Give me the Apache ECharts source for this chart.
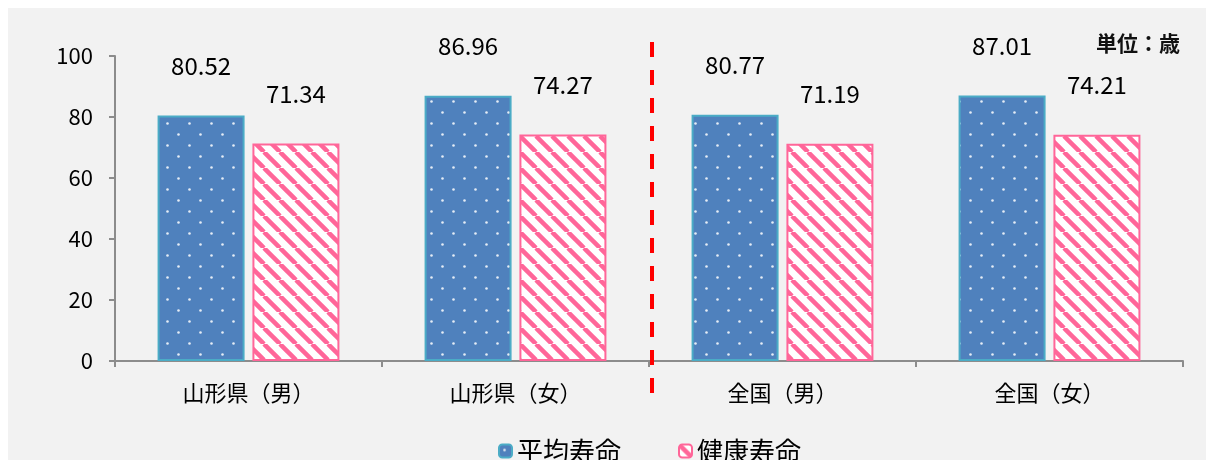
<!DOCTYPE html>
<html>
<head>
<meta charset="utf-8">
<script src="https://cdn.jsdelivr.net/npm/echarts@6/dist/echarts.min.js"></script>
<style>
  html,body{margin:0;padding:0;background:#fff;}
  #box{position:absolute;left:8px;top:8px;width:1198px;height:452px;background:#f2f2f2;}
</style>
</head>
<body>
<div id="box"></div>
<script>
// data
var categories = ['山形県（男）', '山形県（女）', '全国（男）', '全国（女）'];
var avgLife = [80.52, 86.96, 80.77, 87.01];
var healthyLife = [71.34, 74.27, 71.19, 74.21];
var seriesNames = ['平均寿命', '健康寿命'];
var yTicks = [0, 20, 40, 60, 80, 100];

var FONT = '"Noto Sans CJK JP", "Noto Sans", sans-serif';

// 青のドット柄
function dotPattern() {
  var c = document.createElement('canvas');
  c.width = 22; c.height = 22;
  var ctx = c.getContext('2d');
  ctx.fillStyle = '#4f81bd';
  ctx.fillRect(0, 0, 22, 22);
  ctx.fillStyle = 'rgba(255,255,255,0.85)';
  [[5.5, 5.5], [16.5, 16.5]].forEach(function (p) {
    ctx.beginPath();
    ctx.arc(p[0], p[1], 1.3, 0, Math.PI * 2);
    ctx.fill();
  });
  return c;
}
// ピンクの斜線柄
function stripePattern() {
  var s = 16;
  var c = document.createElement('canvas');
  c.width = s; c.height = s;
  var ctx = c.getContext('2d');
  ctx.fillStyle = '#ffffff';
  ctx.fillRect(0, 0, s, s);
  ctx.strokeStyle = '#ff6699';
  ctx.lineWidth = 4.5;
  [-s, 0, s].forEach(function (o) {
    ctx.beginPath();
    ctx.moveTo(o, 0);
    ctx.lineTo(o + s, s);
    ctx.stroke();
  });
  return c;
}

var myChart = echarts.init(document.getElementById('box'));

var labelStyle = {
  show: true,
  position: 'top',
  distance: 38,
  fontSize: 24,
  color: '#000',
  fontFamily: FONT,
  formatter: function (p) { return p.value.toFixed(2); }
};

var unitText = {
  type: 'text',
  right: 26,
  top: 25,
  style: { text: '単位：歳', font: 'bold 21px ' + FONT, fill: '#111' }
};

var option = {
  backgroundColor: '#f2f2f2',
  animation: false,
  textStyle: { fontFamily: FONT },
  grid: { left: 107, right: 23, top: 48, bottom: 99 },
  legend: {
    top: 425,
    left: 485,
    itemWidth: 13,
    itemHeight: 13,
    itemGap: 57,
    textStyle: { fontSize: 26, color: '#000', fontFamily: FONT },
    data: seriesNames
  },
  graphic: [unitText],
  xAxis: {
    type: 'category',
    data: categories,
    axisLine: { lineStyle: { color: '#8c8c8c', width: 2 } },
    axisTick: { show: true, length: 6, lineStyle: { color: '#8c8c8c', width: 2 } },
    axisLabel: { fontSize: 22, color: '#000', margin: 21, fontFamily: FONT }
  },
  yAxis: {
    type: 'value',
    min: 0,
    max: 100,
    interval: 20,
    splitLine: { show: false },
    axisLine: { show: true, lineStyle: { color: '#8c8c8c', width: 2 } },
    axisTick: { show: true, length: 6, lineStyle: { color: '#8c8c8c', width: 2 } },
    axisLabel: {
      fontSize: 22, color: '#000', margin: 22, fontFamily: FONT,
      formatter: function (v) { return yTicks.indexOf(v) >= 0 ? String(v) : ''; }
    }
  },
  series: [
    {
      name: seriesNames[0],
      type: 'bar',
      barWidth: 87,
      barGap: '9%',
      itemStyle: {
        color: { image: dotPattern(), repeat: 'repeat' },
        borderColor: '#4bacc6',
        borderWidth: 2
      },
      label: labelStyle,
      data: avgLife
    },
    {
      name: seriesNames[1],
      type: 'bar',
      barWidth: 87,
      itemStyle: {
        color: { image: stripePattern(), repeat: 'repeat' },
        borderColor: '#ff6699',
        borderWidth: 2
      },
      label: labelStyle,
      data: healthyLife
    }
  ]
};

myChart.setOption(option);

// 山形県と全国の間の赤い破線
var xa = myChart.convertToPixel({ xAxisIndex: 0 }, 1);
var xb = myChart.convertToPixel({ xAxisIndex: 0 }, 2);
var y0 = myChart.convertToPixel({ yAxisIndex: 0 }, 0);
var y100 = myChart.convertToPixel({ yAxisIndex: 0 }, 100);
var xm = Math.round((xa + xb) / 2) + 3;
myChart.setOption({
  graphic: [
    unitText,
    {
      type: 'line',
      shape: { x1: xm, y1: y100 - 14, x2: xm, y2: y0 + 32 },
      style: { stroke: '#ff0000', lineWidth: 4, lineDash: [15, 13] },
      z: 10
    }
  ]
});
</script>
</body>
</html>
